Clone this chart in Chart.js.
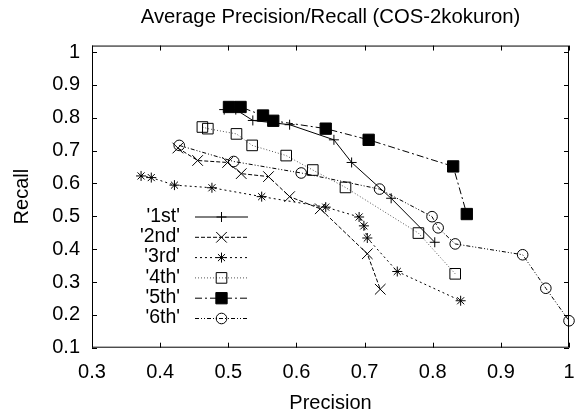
<!DOCTYPE html>
<html>
<head>
<meta charset="utf-8">
<script src="https://cdn.jsdelivr.net/npm/chart.js@4/dist/chart.umd.min.js"></script>
<style>
  html, body { margin: 0; padding: 0; background: #fff; }
  #wrap { width: 578px; height: 413px; }
</style>
</head>
<body>
<div id="wrap"><canvas id="prChart" width="578" height="413"></canvas></div>
<script>
// values
const seriesNames = ["'1st'", "'2nd'", "'3rd'", "'4th'", "'5th'", "'6th'"];

const precision1st = [0.494, 0.511, 0.536, 0.590, 0.655, 0.681, 0.739, 0.803];
const recall1st    = [0.825, 0.825, 0.792, 0.779, 0.733, 0.664, 0.555, 0.421];

const precision2nd = [0.426, 0.455, 0.499, 0.519, 0.559, 0.590, 0.635, 0.704, 0.723];
const recall2nd    = [0.708, 0.670, 0.664, 0.630, 0.621, 0.560, 0.523, 0.386, 0.278];

const precision3rd = [0.372, 0.387, 0.421, 0.476, 0.549, 0.643, 0.692, 0.699, 0.704, 0.748, 0.841];
const recall3rd    = [0.623, 0.618, 0.595, 0.587, 0.560, 0.528, 0.498, 0.471, 0.434, 0.332, 0.243];

const precision4th = [0.462, 0.470, 0.512, 0.535, 0.585, 0.624, 0.672, 0.779, 0.833];
const recall4th    = [0.772, 0.767, 0.751, 0.716, 0.685, 0.641, 0.588, 0.449, 0.325];

const precision5th = [0.501, 0.518, 0.551, 0.566, 0.643, 0.706, 0.830, 0.850];
const recall5th    = [0.833, 0.833, 0.807, 0.791, 0.767, 0.733, 0.652, 0.507];

const precision6th = [0.428, 0.508, 0.607, 0.722, 0.799, 0.808, 0.833, 0.932, 0.966, 1.0];
const recall6th    = [0.716, 0.667, 0.632, 0.583, 0.499, 0.465, 0.416, 0.383, 0.281, 0.182];

const xTicks = [0.3, 0.4, 0.5, 0.6, 0.7, 0.8, 0.9, 1];
const yTicks = [0.1, 0.2, 0.3, 0.4, 0.5, 0.6, 0.7, 0.8, 0.9, 1];

const FONT = '"Liberation Sans", Arial, Helvetica, sans-serif';
Chart.defaults.font.family = FONT;
Chart.defaults.color = '#000';

function toPoints(xs, ys) {
    return xs.map((v, i) => ({ x: v, y: ys[i] }));
}

function makeSeries(label, xs, ys, style) {
    return Object.assign({
        label: label,
        data: toPoints(xs, ys),
        showLine: true,
        fill: false,
        tension: 0,
        clip: false,
        borderColor: '#000',
        borderWidth: 1,
        pointBorderColor: '#000',
        pointBorderWidth: 1,
        pointBackgroundColor: 'rgba(0,0,0,0)'
    }, style);
}

function fmt(v) {
    return Math.abs(v - 1) < 1e-9 ? '1' : v.toFixed(1);
}

// border with inward ticks on all four sides, like gnuplot
const framePlugin = {
    id: 'frame',
    beforeDatasetsDraw(chart) {
        const { ctx, chartArea: a, scales: { x, y } } = chart;
        ctx.save();
        ctx.strokeStyle = '#000';
        ctx.lineWidth = 1;
        ctx.strokeRect(a.left + 0.5, a.top + 0.5, a.right - a.left - 1, a.bottom - a.top - 1);
        ctx.beginPath();
        xTicks.forEach(v => {
            const px = Math.round(x.getPixelForValue(v)) + 0.5;
            ctx.moveTo(px, a.bottom); ctx.lineTo(px, a.bottom - 5);
            ctx.moveTo(px, a.top); ctx.lineTo(px, a.top + 5);
        });
        yTicks.forEach(v => {
            const py = Math.round(y.getPixelForValue(v)) + 0.5;
            ctx.moveTo(a.left, py); ctx.lineTo(a.left + 5, py);
            ctx.moveTo(a.right, py); ctx.lineTo(a.right - 5, py);
        });
        ctx.stroke();
        ctx.restore();
    }
};

// key inside the plot, text right aligned then line sample
const keyPlugin = {
    id: 'key',
    afterDatasetsDraw(chart) {
        const ctx = chart.ctx;
        chart.data.datasets.forEach((ds, i) => {
            const rowY = 216.5 + i * 20.3;
            ctx.save();
            ctx.font = '19.5px ' + FONT;
            ctx.fillStyle = '#000';
            ctx.textAlign = 'right';
            ctx.textBaseline = 'middle';
            ctx.fillText(ds.label, 180, rowY);
            ctx.strokeStyle = ds.borderColor;
            ctx.lineWidth = 1;
            ctx.setLineDash(ds.borderDash || []);
            ctx.beginPath();
            ctx.moveTo(195, rowY + 0.5);
            ctx.lineTo(248, rowY + 0.5);
            ctx.stroke();
            ctx.setLineDash([]);
            ctx.fillStyle = ds.pointBackgroundColor;
            ctx.strokeStyle = ds.pointBorderColor;
            ctx.lineWidth = 1;
            Chart.helpers.drawPoint(ctx, {
                pointStyle: ds.pointStyle, radius: ds.pointRadius, rotation: 0, borderWidth: 1
            }, 221.5, rowY + 0.5);
            ctx.restore();
        });
    }
};

const datasets = [
    makeSeries(seriesNames[0], precision1st, recall1st, { pointStyle: 'cross', pointRadius: 5 }),
    makeSeries(seriesNames[1], precision2nd, recall2nd, { pointStyle: 'crossRot', pointRadius: 7.5, borderDash: [4, 2] }),
    makeSeries(seriesNames[2], precision3rd, recall3rd, { pointStyle: 'star', pointRadius: 5, borderDash: [2, 3] }),
    makeSeries(seriesNames[3], precision4th, recall4th, { pointStyle: 'rect', pointRadius: 7.5, borderDash: [1, 2], borderColor: '#555' }),
    makeSeries(seriesNames[4], precision5th, recall5th, { pointStyle: 'rect', pointRadius: 8, borderDash: [7, 3, 2, 3], pointBackgroundColor: '#000' }),
    makeSeries(seriesNames[5], precision6th, recall6th, { pointStyle: 'circle', pointRadius: 5.3, borderDash: [4, 2, 1, 2, 1, 2] })
];

const ctx = document.getElementById('prChart').getContext('2d');

new Chart(ctx, {
    type: 'scatter',
    data: { datasets: datasets },
    plugins: [framePlugin, keyPlugin],
    options: {
        responsive: false,
        animation: false,
        devicePixelRatio: 1,
        layout: { padding: 0 },
        plugins: {
            legend: { display: false },
            tooltip: { enabled: false },
            title: {
                display: true,
                text: 'Average Precision/Recall (COS-2kokuron)',
                fullSize: false,
                color: '#000',
                font: { size: 20.3, weight: 'normal', lineHeight: 1.2 },
                padding: { top: 5, bottom: 16.2 }
            }
        },
        scales: {
            x: {
                type: 'linear',
                min: 0.3,
                max: 1,
                afterBuildTicks: s => { s.ticks = xTicks.map(v => ({ value: v })); },
                // chart area ends at 578 - paddingRight - 3
                afterFit: s => { s.height = 65.3; s.paddingLeft = 0; s.paddingRight = 3; },
                grid: { display: false, drawTicks: false },
                border: { display: false },
                ticks: { padding: 13, autoSkip: false, maxRotation: 0, color: '#000', font: { size: 20 }, callback: v => fmt(v) },
                title: { display: true, text: 'Precision', color: '#000', font: { size: 20, lineHeight: 1 }, padding: { top: 0, bottom: 0 } }
            },
            y: {
                type: 'linear',
                min: 0.1,
                max: 1.02,
                afterBuildTicks: s => { s.ticks = yTicks.map(v => ({ value: v })); },
                afterFit: s => { s.width = 92; s.paddingTop = 0; s.paddingBottom = 0; },
                grid: { display: false, drawTicks: false },
                border: { display: false },
                ticks: { padding: 12, autoSkip: false, color: '#000', font: { size: 20 }, callback: v => fmt(v) },
                title: { display: true, text: 'Recall', color: '#000', font: { size: 20, lineHeight: 1 }, padding: { top: 12, bottom: 0 } }
            }
        }
    }
});
</script>
</body>
</html>
